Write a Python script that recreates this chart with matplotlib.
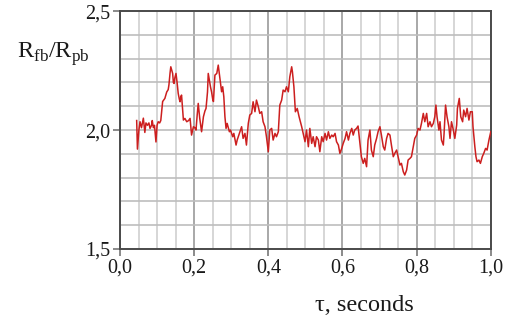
import numpy as np
import matplotlib.pyplot as plt
from matplotlib.ticker import MultipleLocator, FuncFormatter

plt.rcParams['font.family'] = 'Liberation Serif'
plt.rcParams['mathtext.fontset'] = 'custom'
plt.rcParams['mathtext.rm'] = 'Liberation Serif'

# time, seconds
tau = [0.045, 0.047, 0.051, 0.054, 0.058, 0.063, 0.067, 0.070, 0.074, 0.078,
       0.081, 0.085, 0.087, 0.090, 0.093, 0.097, 0.100, 0.103, 0.107, 0.110,
       0.115, 0.121, 0.126, 0.130, 0.132, 0.135, 0.137, 0.140, 0.142, 0.144,
       0.146, 0.148, 0.151, 0.154, 0.157, 0.160, 0.162, 0.164, 0.166, 0.169,
       0.171, 0.175, 0.178, 0.180, 0.185, 0.189, 0.193, 0.196, 0.198, 0.202,
       0.205, 0.208, 0.211, 0.215, 0.220, 0.225, 0.229, 0.232, 0.236, 0.238,
       0.241, 0.244, 0.247, 0.250, 0.252,
       0.256, 0.261, 0.265, 0.270, 0.274, 0.277, 0.280, 0.283, 0.286, 0.289,
       0.295, 0.298, 0.304, 0.307, 0.313, 0.316, 0.322, 0.328, 0.332, 0.337,
       0.341, 0.346, 0.350, 0.355, 0.359, 0.364, 0.368, 0.373, 0.377, 0.382,
       0.386, 0.391, 0.395, 0.400, 0.404, 0.409, 0.413, 0.418, 0.422, 0.427,
       0.431, 0.436, 0.440, 0.445, 0.449, 0.454, 0.458, 0.463, 0.465, 0.469,
       0.473, 0.478, 0.483, 0.490, 0.494,
       0.499, 0.503, 0.508, 0.512, 0.517, 0.521, 0.526, 0.530, 0.535, 0.539,
       0.544, 0.548, 0.553, 0.557, 0.562, 0.566, 0.571, 0.575, 0.580, 0.584,
       0.589, 0.593, 0.598, 0.602, 0.607, 0.611, 0.616, 0.620, 0.625, 0.629,
       0.633, 0.638, 0.642, 0.647, 0.651, 0.656, 0.660, 0.665, 0.669, 0.674,
       0.678, 0.683, 0.687, 0.692, 0.696, 0.701, 0.705, 0.710, 0.714, 0.719,
       0.723, 0.728, 0.732, 0.737, 0.741,
       0.746, 0.750, 0.755, 0.759, 0.764, 0.768, 0.773, 0.777, 0.782, 0.786,
       0.791, 0.795, 0.800, 0.804, 0.809, 0.813, 0.818, 0.822, 0.827, 0.831,
       0.836, 0.840, 0.845, 0.849, 0.852, 0.855, 0.860, 0.863, 0.867, 0.872,
       0.874, 0.878, 0.882, 0.887, 0.890, 0.894, 0.899, 0.903, 0.908, 0.910,
       0.915, 0.919, 0.924, 0.927, 0.932, 0.936, 0.941, 0.945, 0.950, 0.952,
       0.957, 0.960, 0.963, 0.968, 0.972, 0.977, 0.981, 0.986, 0.990, 0.995,
       1.000]

# resistance ratio R_fb/R_pb
ratio = [2.040, 1.920, 2.000, 2.035, 2.010, 2.050, 1.990, 2.030, 2.020, 2.030,
         2.007, 2.020, 2.040, 2.010, 2.020, 1.950, 2.020, 2.035, 2.030, 2.040,
         2.120, 2.133, 2.160, 2.170, 2.190, 2.240, 2.266, 2.250, 2.238, 2.200,
         2.196, 2.220, 2.238, 2.200, 2.154, 2.130, 2.119, 2.140, 2.147, 2.080,
         2.042, 2.049, 2.040, 2.035, 2.040, 2.049, 1.979, 2.000, 2.014, 2.010,
         2.000, 2.060, 2.112, 2.050, 1.993, 2.056, 2.080, 2.091, 2.160, 2.238,
         2.210, 2.182, 2.160, 2.130, 2.120,
         2.231, 2.238, 2.273, 2.210, 2.161, 2.182, 2.140, 2.056, 2.007, 2.028,
         1.993, 2.000, 1.972, 1.986, 1.937, 1.958, 1.986, 2.014, 1.965, 1.986,
         1.937, 2.028, 2.063, 2.070, 2.119, 2.077, 2.126, 2.098, 2.070, 2.077,
         2.035, 2.014, 1.972, 1.909, 2.000, 2.007, 1.958, 1.986, 1.972, 1.993,
         2.105, 2.126, 2.168, 2.161, 2.182, 2.161, 2.224, 2.266, 2.245, 2.182,
         2.077, 2.091, 2.056, 2.014, 1.986,
         1.951, 2.000, 1.930, 2.007, 1.944, 1.972, 1.930, 1.972, 1.958, 1.909,
         1.972, 1.951, 1.986, 1.958, 1.993, 1.965, 1.979, 1.972, 1.986, 1.951,
         1.937, 1.902, 1.923, 1.944, 1.965, 1.993, 1.958, 1.986, 2.007, 1.979,
         2.000, 2.007, 2.017, 1.944, 1.888, 1.860, 1.881, 1.846, 1.958, 2.000,
         1.916, 1.888, 1.937, 1.965, 1.993, 2.014, 1.979, 1.930, 1.916, 1.965,
         1.986, 1.979, 1.937, 1.888, 1.902,
         1.916, 1.888, 1.853, 1.860, 1.825, 1.811, 1.832, 1.874, 1.881, 1.888,
         1.930, 1.965, 1.979, 2.007, 2.000, 2.028, 2.070, 2.035, 2.070, 2.014,
         2.035, 2.014, 2.028, 2.056, 2.105, 2.056, 2.000, 2.035, 1.958, 1.937,
         1.986, 2.105, 2.056, 2.014, 1.965, 2.035, 2.000, 1.965, 2.021, 2.091,
         2.133, 2.056, 2.035, 2.084, 2.056, 2.091, 2.042, 2.077, 2.077, 2.014,
         1.930, 1.888, 1.867, 1.874, 1.860, 1.888, 1.902, 1.923, 1.916, 1.958,
         1.993]

fig = plt.figure(figsize=(5.15, 3.27), dpi=100)
ax = fig.add_axes([0.233, 0.2385, 0.72, 0.7275])

ax.set_xlim(0, 1.0)
ax.set_ylim(1.5, 2.5)

ax.xaxis.set_major_locator(MultipleLocator(0.2))
ax.xaxis.set_minor_locator(MultipleLocator(0.05))
ax.yaxis.set_major_locator(MultipleLocator(0.5))
ax.yaxis.set_minor_locator(MultipleLocator(0.1))

comma = FuncFormatter(lambda v, pos: f"{v:.1f}".replace('.', ','))
ax.xaxis.set_major_formatter(comma)
ax.yaxis.set_major_formatter(comma)

ax.grid(which='minor', axis='x', color='#cfcfcf', lw=1.2)
ax.grid(which='major', axis='x', color='#9a9a9a', lw=1.2)
ax.grid(which='both', axis='y', color='#bdbdbd', lw=1.2)
ax.set_axisbelow(True)

ax.plot(tau, ratio, color='#cc1f1f', lw=1.1, zorder=3)

for s in ax.spines.values():
    s.set_color('#4a4a4a')
    s.set_linewidth(1.4)

ax.tick_params(which='major', length=5, width=1.2, color='#777777',
               labelsize=14.5, labelcolor='#1a1a1a', pad=2)
ax.tick_params(which='minor', length=0)

fig.text(0.033, 0.822, r'R$_{\mathrm{fb}}$/R$_{\mathrm{pb}}$', fontsize=17.5,
         color='#1a1a1a', ha='left', va='baseline')
fig.text(0.707, 0.065, 'τ, seconds', fontsize=17.5, color='#1a1a1a',
         ha='center', va='center')

fig.savefig('out.png', dpi=100)
